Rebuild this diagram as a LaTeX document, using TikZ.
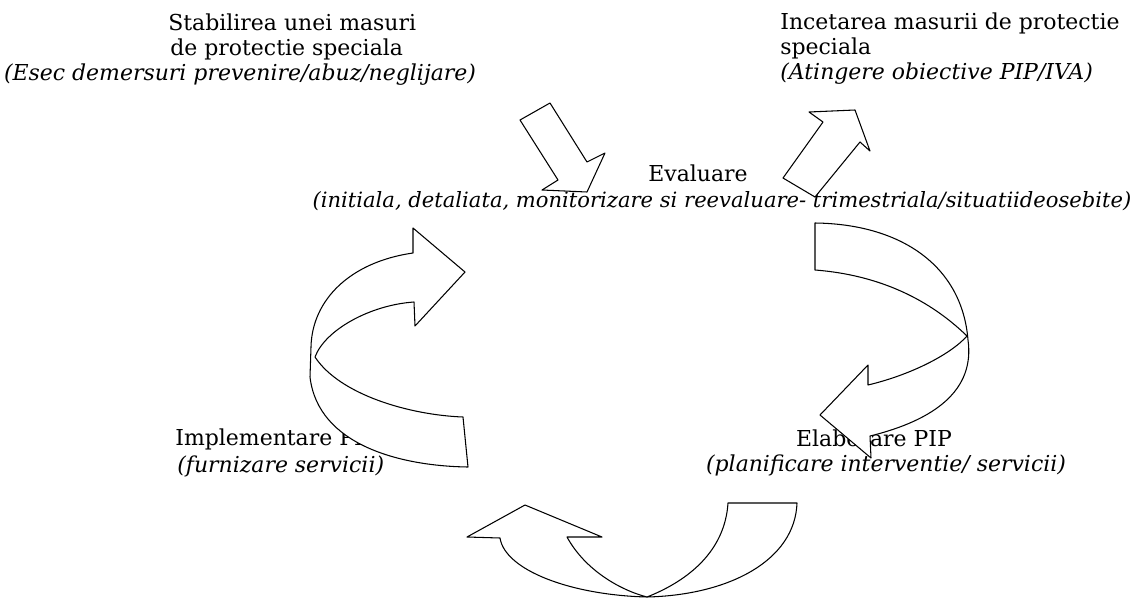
\documentclass[tikz,border=0pt]{standalone}
\usepackage{fontspec}
\setmainfont{DejaVu Serif}
\usepackage{tikz}
\usepackage{xcolor}

\begin{document}
\begin{tikzpicture}[x=0.02cm, y=-0.02cm,
    lbl/.style={inner sep=0pt, font=\fontsize{12.5}{14}\selectfont},
    note/.style={lbl, font=\fontsize{12.5}{14}\selectfont\itshape},
    ribbon/.style={draw=black, fill=white, line width=0.6pt, line join=round}]
  % Page frame
  \useasboundingbox (0,0) rectangle (1143,599);

  % Text of the five stages
  \node[lbl, anchor=base west] (stabA) at (168,30) {Stabilirea unei masuri};
  \node[lbl, anchor=base west] (stabB) at (170,55) {de protectie speciala};
  \node[note, anchor=base] (stabC) at (240,80) {(Esec demersuri prevenire/abuz/neglijare)};

  \node[lbl, anchor=base west] (incA) at (780,29) {Incetarea masurii de protectie};
  \node[lbl, anchor=base west] (incB) at (780,54) {speciala};
  \node[note, anchor=base west] (incC) at (780,79) {(Atingere obiective PIP/IVA)};

  \node[lbl, anchor=base] (evalA) at (698,181) {Evaluare};
  \node[note, anchor=base, font=\fontsize{12}{14}\selectfont\itshape] (evalB) at (722,207)
    {(initiala, detaliata, monitorizare si reevaluare- trimestriala/situatiideosebite)};

  \node[lbl, anchor=base west] (implA) at (175,445) {Implementare PIP};
  \node[note, anchor=base west] (implB) at (177,472) {(furnizare servicii)};

  \node[lbl, anchor=base] (elabA) at (874,446) {Elaborare PIP};
  \node[note, anchor=base] (elabB) at (886,471) {(planificare interventie/ servicii)};

  % Straight arrow into the cycle
  \draw[ribbon] (520,120) -- (550,103) -- (587,162) -- (605,153) -- (587,192)
    -- (542,190) -- (558,180) -- cycle;

  % Straight arrow out of the cycle
  \draw[ribbon] (783,178) -- (823,122) -- (809,112) -- (855,110) -- (870,151)
    -- (860,142) -- (815,197) -- cycle;

  % Evaluare -> Elaborare
  \draw[ribbon] (815,223) .. controls (900,224) and (962,265) .. (968,340)
    .. controls (975,390) and (935,420) .. (870,436)
    -- (871,458) -- (820,415) -- (868,365) -- (868,385)
    .. controls (910,375) and (950,355) .. (967,336)
    .. controls (930,300) and (880,275) .. (815,270) -- cycle;

  % Elaborare -> Implementare
  \draw[ribbon] (728,503) -- (797,503)
    .. controls (795,560) and (730,595) .. (647,597)
    .. controls (570,595) and (505,570) .. (500,538)
    -- (467,537) -- (525,505) -- (602,537) -- (567,537)
    .. controls (585,570) and (620,590) .. (647,597)
    .. controls (690,580) and (725,550) .. (728,503) -- cycle;

  % Implementare -> Evaluare
  \draw[ribbon] (465,272) -- (415,326) -- (414,302)
    .. controls (370,305) and (325,330) .. (315,357)
    .. controls (340,395) and (410,415) .. (463,417)
    -- (468,467)
    .. controls (400,466) and (318,445) .. (310,377)
    -- (311,347)
    .. controls (312,300) and (350,262) .. (413,253)
    -- (413,228) -- cycle;
\end{tikzpicture}
\end{document}
